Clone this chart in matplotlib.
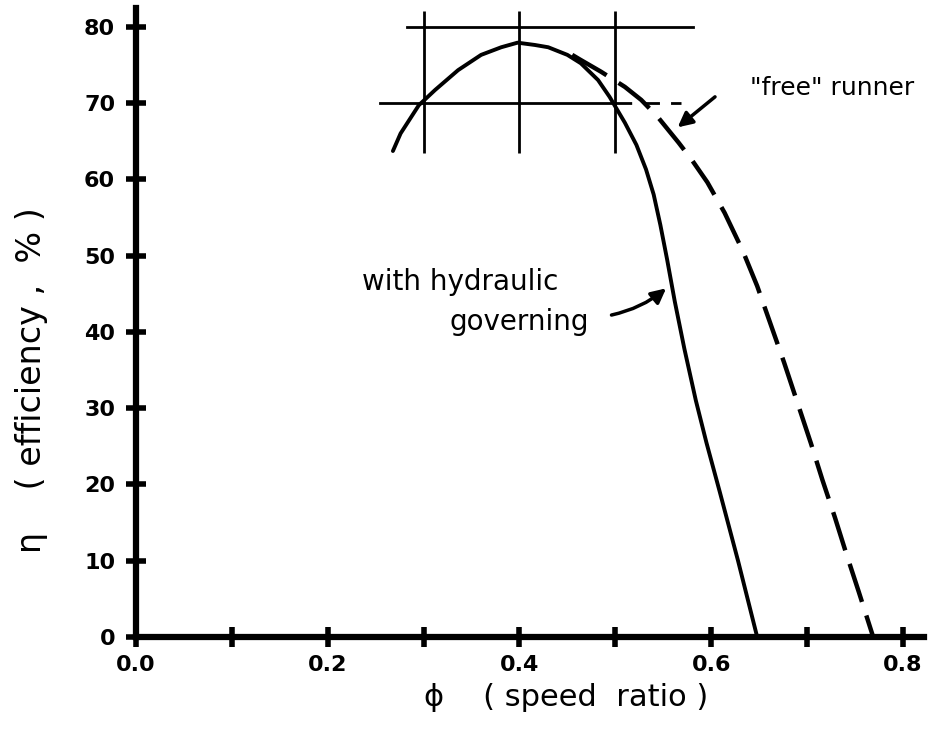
import matplotlib.pyplot as plt
from matplotlib.ticker import MultipleLocator, FuncFormatter

# efficiency curves
phi_gov = [0.268, 0.276, 0.295, 0.312, 0.336, 0.360, 0.381, 0.398, 0.416, 0.430,
           0.450, 0.464, 0.482, 0.494, 0.510, 0.522, 0.532, 0.540, 0.547, 0.554,
           0.562, 0.572, 0.584, 0.595, 0.609, 0.628, 0.648]
eta_gov = [63.7, 66.0, 69.7, 71.7, 74.3, 76.3, 77.3, 77.9, 77.6, 77.3,
           76.3, 75.2, 73.0, 70.8, 67.4, 64.5, 61.3, 58.0, 54.0, 49.5,
           44.0, 37.8, 31.0, 25.5, 19.0, 10.0, 0.0]

phi_free = [0.455, 0.463, 0.485, 0.510, 0.527, 0.544, 0.566, 0.580, 0.596, 0.614,
            0.633, 0.648, 0.662, 0.676, 0.690, 0.704, 0.716, 0.729, 0.741, 0.754, 0.769]
eta_free = [76.3, 75.7, 74.1, 72.1, 70.4, 68.2, 64.8, 62.5, 59.6, 55.6,
            50.6, 46.0, 41.0, 36.0, 30.7, 25.4, 20.6, 15.7, 10.9, 5.9, 0.0]

# crosshair guide lines around the best efficiency point
guide_phi = [0.3, 0.4, 0.5]
guide_eta = [70, 80]

x_labels = {0.0: '0.0', 0.2: '0.2', 0.4: '0.4', 0.6: '0.6', 0.8: '0.8'}

W, H = 929, 740
fig = plt.figure(figsize=(W / 100, H / 100), dpi=100)
ax = fig.add_axes([136 / W, 103 / H, 788 / W, 634 / H])
ax.set_xlim(0, 0.822)
ax.set_ylim(0, 83.1)

# guides
for p in guide_phi:
    ax.plot([p, p], [63.5, 82.0], color='black', lw=2.0, solid_capstyle='butt')
ax.plot([0.283, 0.581], [guide_eta[1]] * 2, color='black', lw=2.0)
ax.plot([0.255, 0.500], [guide_eta[0]] * 2, color='black', lw=2.0)
ax.plot([0.500, 0.568], [guide_eta[0]] * 2, color='black', lw=2.0,
        linestyle=(0, (6, 4)))

# curves
ax.plot(phi_gov, eta_gov, color='black', lw=2.8, solid_capstyle='round',
        solid_joinstyle='round')
ax.plot(phi_free, eta_free, color='black', lw=3.2, linestyle=(0, (9, 3.2)))

# axes styling
for s in ['top', 'right']:
    ax.spines[s].set_visible(False)
for s in ['left', 'bottom']:
    ax.spines[s].set_linewidth(4.5)
ax.spines['left'].set_bounds(0, 82.5)

ax.xaxis.set_major_locator(MultipleLocator(0.1))
ax.xaxis.set_major_formatter(FuncFormatter(
    lambda v, pos: x_labels.get(round(v, 1), '')))
ax.yaxis.set_major_locator(MultipleLocator(10))
ax.tick_params(axis='both', direction='inout', length=14, width=4)
ax.tick_params(axis='x', pad=6, labelsize=16)
ax.tick_params(axis='y', pad=8, labelsize=16)
for lab in ax.get_xticklabels() + ax.get_yticklabels():
    lab.set_fontweight('bold')

# axis titles
fig.text(566 / W, 1 - 698 / H, 'ϕ    ( speed  ratio )', fontsize=22,
         ha='center', va='center')
fig.text(32 / W, 1 - 380 / H, 'η    ( efficiency ,  % )', fontsize=24,
         ha='center', va='center', rotation=90)

# annotations
arrow = dict(arrowstyle='-|>', color='black', lw=2.5, mutation_scale=22,
             shrinkA=0, shrinkB=0)
ax.text(0.640, 72.0, '"free" runner', fontsize=18, ha='left', va='center')
ax.annotate('', xy=(0.565, 66.8), xytext=(0.604, 70.8), arrowprops=arrow)

ax.text(0.338, 46.5, 'with hydraulic', fontsize=20, ha='center', va='center')
ax.text(0.400, 41.3, 'governing', fontsize=20, ha='center', va='center')
ax.annotate('', xy=(0.553, 45.7), xytext=(0.496, 42.2),
            arrowprops=dict(arrow, connectionstyle='arc3,rad=0.12'))

fig.patch.set_facecolor('white')
fig.savefig('out.png', dpi=100)
